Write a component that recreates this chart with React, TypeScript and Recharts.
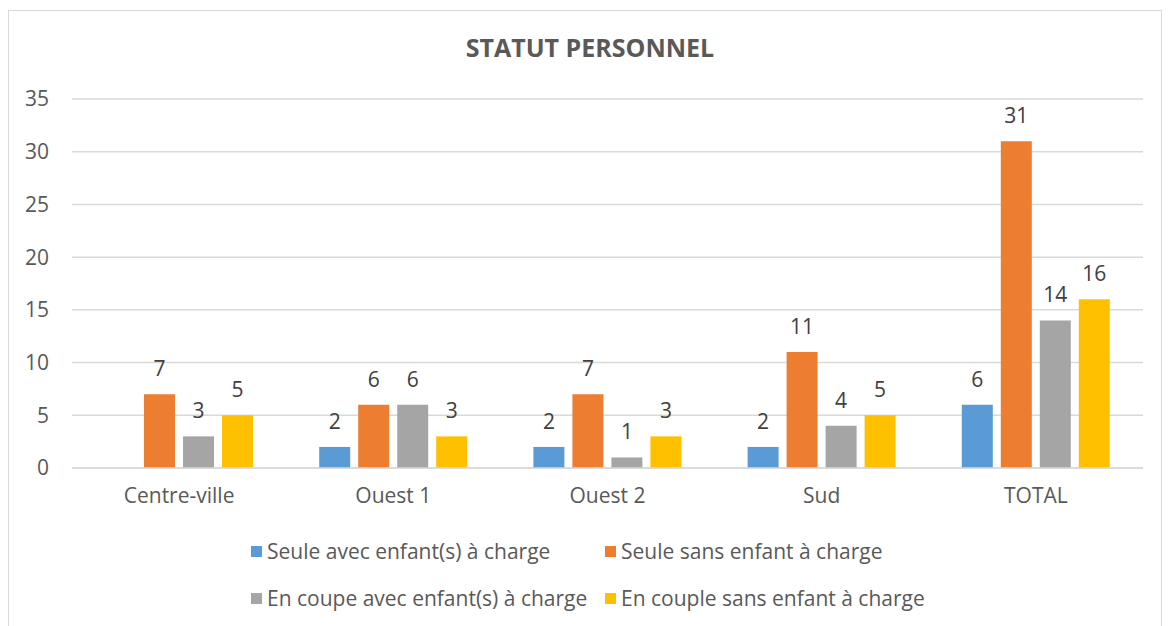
import React from "react";
import {
  BarChart,
  Bar,
  XAxis,
  YAxis,
  CartesianGrid,
  LabelList,
} from "recharts";

// Categories and series
const categories = ["Centre-ville", "Ouest 1", "Ouest 2", "Sud", "TOTAL"];
const seuleAvec = [null, 2, 2, 2, 6];
const seuleSans = [7, 6, 7, 11, 31];
const coupleAvec = [3, 6, 1, 4, 14];
const coupleSans = [5, 3, 3, 5, 16];
const yTicks = [0, 5, 10, 15, 20, 25, 30, 35];

const series = [
  { key: "seuleAvec", name: "Seule avec enfant(s) à charge", color: "#5B9BD5", values: seuleAvec },
  { key: "seuleSans", name: "Seule sans enfant à charge", color: "#ED7D31", values: seuleSans },
  { key: "coupleAvec", name: "En coupe avec enfant(s) à charge", color: "#A5A5A5", values: coupleAvec },
  { key: "coupleSans", name: "En couple sans enfant à charge", color: "#FFC000", values: coupleSans },
];

const data = categories.map((name, i) => {
  const row: any = { name };
  series.forEach((s) => {
    row[s.key] = s.values[i];
  });
  return row;
});

const FONT = "'Open Sans', sans-serif";
const TEXT = "#595959";

export default function App() {
  return (
    <div
      style={{
        position: "absolute",
        left: 0,
        top: 0,
        width: 1170,
        height: 626,
        background: "#fff",
        fontFamily: FONT,
        overflow: "hidden",
      }}
    >
      {/* chart frame */}
      <div
        style={{
          position: "absolute",
          left: 8,
          top: 10,
          width: 1152,
          height: 640,
          border: "1px solid #D9D9D9",
        }}
      />
      <div
        style={{
          position: "absolute",
          left: 0,
          top: 30,
          width: 1180,
          textAlign: "center",
          fontSize: 25,
          fontWeight: 700,
          color: TEXT,
        }}
      >
        STATUT PERSONNEL
      </div>
      <BarChart
        width={1170}
        height={626}
        data={data}
        margin={{ top: 99, right: 27, bottom: 128, left: 0 }}
        barCategoryGap={33}
        barGap={8}
        style={{ position: "absolute", left: 0, top: 0 }}
      >
        <CartesianGrid vertical={false} stroke="#D9D9D9" strokeWidth={1.5} />
        <XAxis
          dataKey="name"
          axisLine={{ stroke: "#D9D9D9", strokeWidth: 1.5 }}
          tickLine={false}
          tickSize={0}
          tickMargin={20}
          tick={{ fill: TEXT, fontSize: 21, fontFamily: FONT }}
        />
        <YAxis
          width={72}
          domain={[0, 35]}
          ticks={yTicks}
          axisLine={false}
          tickLine={false}
          tickSize={0}
          tickMargin={23}
          tick={{ fill: TEXT, fontSize: 21, fontFamily: FONT }}
        />
        {series.map((s) => (
          <Bar key={s.key} dataKey={s.key} name={s.name} fill={s.color} isAnimationActive={false}>
            <LabelList
              dataKey={s.key}
              position="top"
              offset={18}
              fill="#404040"
              fontSize={21}
              fontFamily={FONT}
            />
          </Bar>
        ))}
      </BarChart>
      {/* legend */}
      {series.map((s, i) => {
        const col = i % 2;
        const row = Math.floor(i / 2);
        return (
          <div
            key={s.key}
            style={{
              position: "absolute",
              left: col === 0 ? 251 : 605,
              top: row === 0 ? 537 : 584,
              height: 28,
              display: "flex",
              alignItems: "center",
              fontSize: 21,
              color: TEXT,
              whiteSpace: "nowrap",
            }}
          >
            <span
              style={{
                display: "inline-block",
                width: 11,
                height: 11,
                background: s.color,
                marginRight: 5,
              }}
            />
            {s.name}
          </div>
        );
      })}
    </div>
  );
}
